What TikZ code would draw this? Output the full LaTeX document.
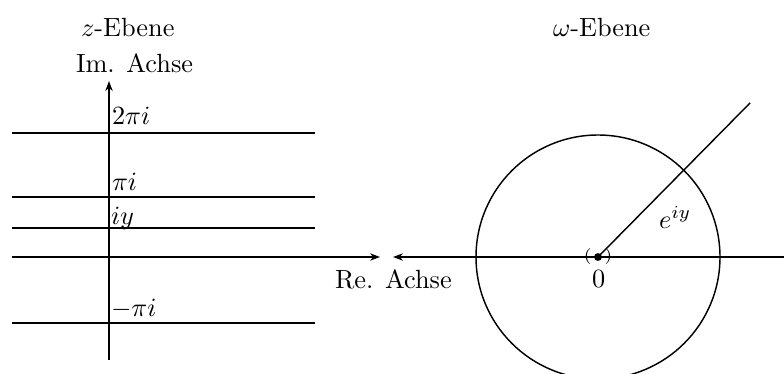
\documentclass[tikz,border=0pt]{standalone}
\usetikzlibrary{arrows.meta}
\begin{document}
\begin{tikzpicture}[x=0.38pt,y=-0.38pt,line width=0.55pt,
  ax/.style={-{Stealth[length=3.8pt,width=2.8pt]}},
  lbl/.style={anchor=base west,inner sep=0pt,outer sep=0pt}]
\useasboundingbox (0,0) rectangle (784,374);
\clip (0,0) rectangle (784,374);
% left plane coordinates
\coordinate (imB) at (109,360);
\coordinate (imT) at (109,81);
\coordinate (reL) at (12,257);
\coordinate (reR) at (380,257);
\coordinate (a1) at (12,133); \coordinate (b1) at (315,133);
\coordinate (a2) at (12,197); \coordinate (b2) at (315,197);
\coordinate (a3) at (12,228); \coordinate (b3) at (315,228);
\coordinate (a4) at (12,323); \coordinate (b4) at (315,323);
\draw[ax] (imB) -- (imT);
\draw[ax] (reL) -- (reR);
\draw (a1) -- (b1);
\draw (a2) -- (b2);
\draw (a3) -- (b3);
\draw (a4) -- (b4);
\node[lbl] (l2pi) at (112,125) {$2\pi i$};
\node[lbl] (lpi) at (112,190) {$\pi i$};
\node[lbl] (liy) at (111,224) {$iy$};
\node[lbl] (lmpi) at (111,316) {$-\pi i$};
\node[lbl] (lre) at (335,288) {Re. Achse};
\node[lbl] (lim) at (76,73) {Im. Achse};
\node[lbl] (lz) at (81,37) {$z$-Ebene};
% right plane
\coordinate (O) at (598,257);
\coordinate (wR) at (790,257);
\coordinate (wL) at (393,257);
\coordinate (rayE) at (750,103);
\draw[ax] (wR) -- (wL);
\draw (O) circle[radius=46.36pt];
\draw (O) -- (rayE);
\fill (O) circle[radius=1.5pt];
\node[inner sep=0pt,font=\fontsize{6}{7}\selectfont] (par) at (598,256.5) {$(\hspace{5pt})$};
\node[lbl] (l0) at (592,287) {$0$};
\node[lbl] (leiy) at (659,228) {$e^{iy}$};
\node[lbl] (lw) at (553,37) {$\omega$-Ebene};
\end{tikzpicture}
\end{document}
